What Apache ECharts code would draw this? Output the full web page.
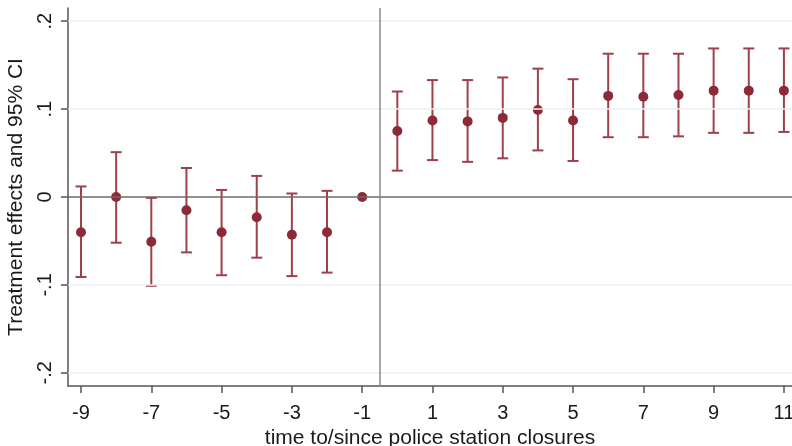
<!DOCTYPE html>
<html><head><meta charset="utf-8">
<script src="https://cdn.jsdelivr.net/npm/echarts@6/dist/echarts.min.js"></script>
<style>html,body{margin:0;padding:0;background:#fff}#c{width:792px;height:446px}</style>
</head><body><div id="c"></div>
<script>
const periods   = [-9, -8, -7, -6, -5, -4, -3, -2, -1, 0, 1, 2, 3, 4, 5, 6, 7, 8, 9, 10, 11];
const estimates = [-0.040, 0.000, -0.051, -0.015, -0.040, -0.023, -0.043, -0.040, 0.000, 0.075, 0.087, 0.086, 0.090, 0.099, 0.087, 0.115, 0.114, 0.116, 0.121, 0.121, 0.121];
const ciLow     = [-0.091, -0.052, -0.101, -0.063, -0.089, -0.069, -0.090, -0.086, 0.000, 0.030, 0.042, 0.040, 0.044, 0.053, 0.041, 0.068, 0.068, 0.069, 0.073, 0.073, 0.074];
const ciHigh    = [0.012, 0.051, -0.001, 0.033, 0.008, 0.024, 0.004, 0.007, 0.000, 0.120, 0.133, 0.133, 0.136, 0.146, 0.134, 0.163, 0.163, 0.163, 0.169, 0.169, 0.169];
const xTicks    = [-9, -7, -5, -3, -1, 1, 3, 5, 7, 9, 11];
const yTicks    = [-0.2, -0.1, 0, 0.1, 0.2];
const yTickLabels = ['-.2', '-.1', '0', '.1', '.2'];
const gridValues = [-0.2, -0.1, 0.1, 0.2];
const treatmentStart = -0.5;

const dotColor = '#8c2b37';
const ciColor = '#9e3f4b';
const axisColor = '#555555';
const FONT = 'Liberation Sans, Arial, sans-serif';

const chart = echarts.init(document.getElementById('c'), null, {renderer: 'canvas'});

const ciData = periods.map((p, i) => [p, ciLow[i], ciHigh[i]]);
const ptData = periods.map((p, i) => [p, estimates[i]]);

chart.setOption({
  animation: false,
  backgroundColor: '#ffffff',
  grid: {left: 68, right: 0, top: 8, bottom: 60, containLabel: false, outerBoundsMode: 'none'},
  xAxis: {
    type: 'value', min: -9.37, max: 11.23,
    name: 'time to/since police station closures',
    nameLocation: 'middle', nameGap: 34,
    nameTextStyle: {fontFamily: FONT, fontSize: 21, color: '#1a1a1a'},
    axisLine: {show: true, onZero: false, lineStyle: {color: axisColor, width: 1.5}},
    axisTick: {show: true, length: 7, lineStyle: {color: axisColor, width: 1.5}, customValues: xTicks},
    axisLabel: {show: true, margin: 17, fontFamily: FONT, fontSize: 20, color: '#1a1a1a',
      customValues: xTicks, formatter: v => String(v)},
    splitLine: {show: false}
  },
  yAxis: {
    type: 'value', min: -0.215, max: 0.215,
    name: 'Treatment effects and 95% CI',
    nameLocation: 'middle', nameGap: 35,
    nameTextStyle: {fontFamily: FONT, fontSize: 21, color: '#1a1a1a'},
    axisLine: {show: true, onZero: false, lineStyle: {color: axisColor, width: 1.5}},
    axisTick: {show: true, length: 7, lineStyle: {color: axisColor, width: 1.5}, customValues: yTicks},
    axisLabel: {show: true, rotate: 90, margin: 13, fontFamily: FONT, fontSize: 20, color: '#1a1a1a',
      customValues: yTicks,
      formatter: v => {
        const idx = yTicks.findIndex(t => Math.abs(t - v) < 1e-9);
        return idx >= 0 ? yTickLabels[idx] : '';
      }},
    splitLine: {show: false}
  },
  series: [
    {
      type: 'line', data: [], z: 1, silent: true,
      markLine: {
        silent: true, symbol: ['none', 'none'], label: {show: false}, animation: false,
        data: gridValues.map(v => ({yAxis: v, lineStyle: {color: '#e8f0f1', width: 1.5, type: 'solid'}}))
          .concat([
            {yAxis: 0, lineStyle: {color: '#6b6b6b', width: 1.5, type: 'solid'}},
            {xAxis: treatmentStart, lineStyle: {color: '#8a8a8a', width: 1.5, type: 'solid'}}
          ])
      }
    },
    {
      type: 'custom', z: 3, data: ciData,
      encode: {x: 0, y: [1, 2]},
      renderItem: (params, api) => {
        const x = api.value(0), lo = api.value(1), hi = api.value(2);
        if (lo === hi) return null;
        const a = api.coord([x, lo]), b = api.coord([x, hi]);
        const hw = 5.5;
        const style = {stroke: ciColor, lineWidth: 2, fill: null};
        return {type: 'group', children: [
          {type: 'line', shape: {x1: a[0], y1: a[1], x2: b[0], y2: b[1]}, style},
          {type: 'line', shape: {x1: a[0] - hw, y1: a[1], x2: a[0] + hw, y2: a[1]}, style},
          {type: 'line', shape: {x1: b[0] - hw, y1: b[1], x2: b[0] + hw, y2: b[1]}, style}
        ]};
      }
    },
    {
      type: 'scatter', z: 4, data: ptData, symbol: 'circle', symbolSize: 10,
      itemStyle: {color: dotColor, opacity: 1}
    }
  ]
});
</script></body></html>
